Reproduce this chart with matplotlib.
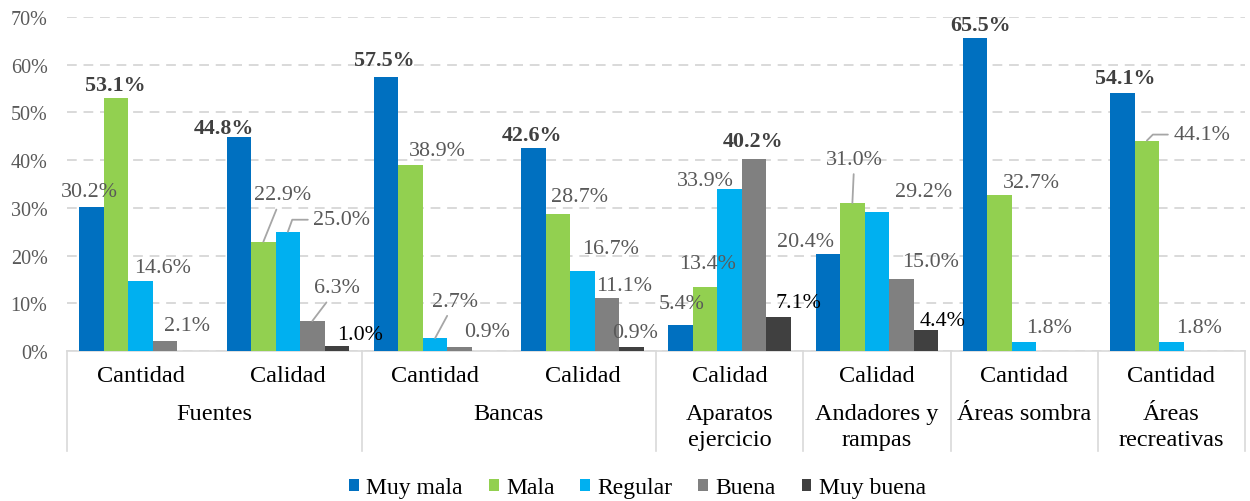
import matplotlib.pyplot as plt
import matplotlib.transforms as mtransforms
import numpy as np

plt.rcParams['font.family'] = ['Liberation Serif', 'DejaVu Serif']

nan = np.nan
subcats = ['Cantidad', 'Calidad', 'Cantidad', 'Calidad', 'Calidad', 'Calidad', 'Cantidad', 'Cantidad']
maincats = ['Fuentes', 'Bancas', 'Aparatos\nejercicio', 'Andadores y\nrampas', 'Áreas sombra', 'Áreas\nrecreativas']
main_spans = [(0, 1), (2, 3), (4, 4), (5, 5), (6, 6), (7, 7)]
series = ['Muy mala', 'Mala', 'Regular', 'Buena', 'Muy buena']

muy_mala = [30.2, 44.8, 57.5, 42.6, 5.4, 20.4, 65.5, 54.1]
mala = [53.1, 22.9, 38.9, 28.7, 13.4, 31.0, 32.7, 44.1]
regular = [14.6, 25.0, 2.7, 16.7, 33.9, 29.2, 1.8, 1.8]
buena = [2.1, 6.3, 0.9, 11.1, 40.2, 15.0, nan, nan]
muy_buena = [nan, 1.0, nan, 0.9, 7.1, 4.4, nan, nan]
values = [muy_mala, mala, regular, buena, muy_buena]

colors = ['#0070C0', '#92D050', '#00B0F0', '#808080', '#404040']

# label offsets in pixels from the top centre of each bar (Excel moved some of them)
offsets = [
    [(-2, 15), (-15, 9), (-2, 17), (-1, 13), (1, 22), (-22, 12), (5, 13), (3, 15)],
    [(-1, 13), (19, 47), (27, 15), (22, 18), (2, 24), (2, 44), (32, 12), (55, 6)],
    [(22, 14), (54, 12), (20, 37), (28, 23), (-24, 9), (47, 20), (25, 15), (28, 15)],
    [(22, 15), (25, 33), (27, 15), (17, 13), (-1, 18), (29, 18), None, None],
    [None, (23, 12), None, (4, 14), (20, 15), (17, 10), None, None],
]
leaders = {
    (1, 1): 'arc3', (2, 1): 'angle,angleA=0,angleB=70,rad=0', (3, 1): 'arc3',
    (2, 2): 'arc3', (1, 5): 'arc3', (1, 7): 'angle,angleA=0,angleB=45,rad=0',
}
bold_labels = [(1, 0), (0, 1), (0, 2), (0, 3), (3, 4), (0, 6), (0, 7)]
black_labels = [(4, 1), (4, 4), (4, 5)]

fig = plt.figure(figsize=(12.5, 5.02), dpi=100)
ax = fig.add_axes([67 / 1250, 150 / 502, 1178 / 1250, 334 / 502])

x = np.arange(len(subcats))
w = 0.1664
for i, vals in enumerate(values):
    ax.bar(x + (i - 2) * w, vals, w, color=colors[i], label=series[i], zorder=3)

for g in range(len(subcats)):
    for i in range(len(series)):
        v = values[i][g]
        if np.isnan(v):
            continue
        dx, dy = offsets[i][g]
        bold = (i, g) in bold_labels
        col = '#404040' if bold else '#595959'
        if (i, g) in black_labels:
            col = 'black'
        arrow = None
        if (i, g) in leaders:
            cs = leaders[(i, g)]
            arrow = dict(arrowstyle='-', color='#a6a6a6', lw=1.3, shrinkA=2, shrinkB=0,
                         connectionstyle=cs, relpos=(0, 0.5) if cs.startswith('angle') else (0.5, 0.5))
        ax.annotate(f'{v:.1f}%', xy=(g + (i - 2) * w, v), xytext=(dx, dy),
                    textcoords='offset pixels', ha='center', va='center',
                    fontsize=15.8, color=col, fontweight='bold' if bold else 'normal',
                    arrowprops=arrow, zorder=4)

ax.set_xlim(-0.5, 7.5)
ax.set_ylim(0, 70)
ax.set_yticks(range(0, 80, 10))
ax.set_yticklabels([f'{t}%' for t in range(0, 80, 10)], fontsize=14.5, color='#595959')
ax.tick_params(axis='y', length=0, pad=14)
ax.set_xticks([])
ax.yaxis.grid(True, color='#d9d9d9', lw=1.4, linestyle=(0, (5, 3.5)), zorder=0)
for s in ['left', 'right', 'top']:
    ax.spines[s].set_visible(False)
ax.spines['bottom'].set_color('#d9d9d9')
ax.spines['bottom'].set_linewidth(1.2)

# two-level category axis
trans = mtransforms.blended_transform_factory(ax.transData, ax.transAxes)
bounds = [-0.5] + [b + 0.5 for a, b in main_spans]
for b in bounds:
    ax.plot([b, b], [0, -0.30], color='#d9d9d9', lw=1.2, transform=trans, clip_on=False)
for g, s in enumerate(subcats):
    ax.text(g, -0.0898, s, transform=trans, ha='center', va='baseline', fontsize=17.5, color='black')
line_step = 26 / 334
for (a, b), name in zip(main_spans, maincats):
    for k, line in enumerate(name.split('\n')):
        ax.text((a + b) / 2, -0.2036 - k * line_step, line, transform=trans, ha='center',
                va='baseline', fontsize=17.5, color='black')

fig.legend(loc='center', bbox_to_anchor=(0.51, 0.026), ncol=5, frameon=False, fontsize=17,
           handlelength=0.42, handleheight=0.42, handletextpad=0.3, columnspacing=1.1)

plt.savefig('out.png', dpi=100)
